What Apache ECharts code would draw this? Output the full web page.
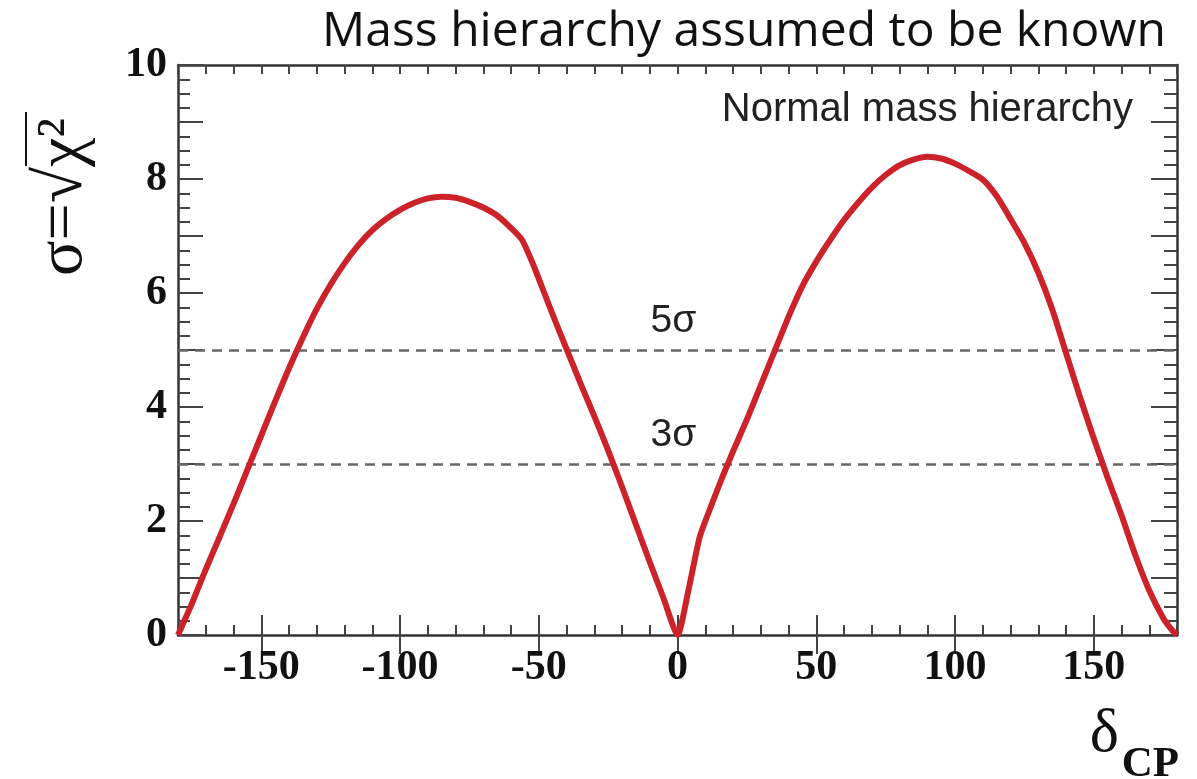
<!DOCTYPE html>
<html><head><meta charset="utf-8">
<script src="https://cdn.jsdelivr.net/npm/echarts@6/dist/echarts.min.js"></script>
<style>html,body{margin:0;padding:0;background:#fff}#c{width:1197px;height:779px}</style>
</head><body><div id="c"></div>
<script>
// δCP (degrees) and significance σ = sqrt(chi2)
const deltaCP = [-180,-175,-170,-165,-160,-155,-150,-145,-140,-135,-130,-125,-120,-115,-110,-105,-100,-95,-90,-85,-80,-75,-70,-65,-60,-56,-52,-48,-44,-40,-35,-30,-25,-20,-15,-10,-5,0,
  4,8,12,16,20,25,30,35,40,45,50,55,60,65,70,75,80,85,90,95,100,105,110,115,120,125,130,135,140,145,150,155,160,165,170,175,178,180];
const sigma = [0,0.55,1.15,1.72,2.3,2.9,3.5,4.1,4.68,5.22,5.72,6.15,6.52,6.84,7.1,7.3,7.46,7.58,7.66,7.69,7.67,7.6,7.5,7.36,7.14,6.93,6.5,6.0,5.5,5.02,4.42,3.84,3.24,2.6,1.94,1.28,0.64,0,
  0.8,1.72,2.25,2.75,3.22,3.78,4.38,4.98,5.58,6.12,6.55,6.93,7.28,7.58,7.85,8.07,8.24,8.34,8.39,8.36,8.27,8.14,7.99,7.7,7.3,6.88,6.36,5.72,4.95,4.18,3.45,2.76,2.1,1.4,0.78,0.3,0.1,0];
const xMajorTicks = [-150,-100,-50,0,50,100,150];
const sigmaLevels = [5,3];
const sigmaLabels = ['5σ','3σ'];
const titleText = 'Mass hierarchy assumed to be known';
const noteText = 'Normal mass hierarchy';

const chart = echarts.init(document.getElementById('c'), null, {renderer:'canvas'});
const tickFont = {fontFamily:'Liberation Serif', fontWeight:'bold', fontSize:42, color:'#111'};
const axisLineStyle = {color:'#333', width:2.5};
const tickStyle = {color:'#444', width:2};
const xBase = {type:'value', min:-180, max:180, gridIndex:0, splitLine:{show:false}};
const yBase = {type:'value', min:0, max:10, gridIndex:0, splitLine:{show:false}};

chart.setOption({
  animation:false,
  backgroundColor:'#fff',
  grid:{left:178, right:20, top:65, bottom:144, containLabel:false},
  title:[
    {text:titleText, right:26, top:3, textStyle:{fontFamily:'Open Sans', fontWeight:'normal', fontSize:48, color:'#111'}},
  ],
  graphic:[
    {type:'text', right:64, top:90, style:{text:noteText, font:'40px "Liberation Sans"', fill:'#222'}},
    {type:'text', x:64, y:197, rotation:Math.PI/2, style:{text:'σ=√χ²', font:'66px "Liberation Serif"', fill:'#111', textAlign:'center', textVerticalAlign:'middle'}},
    {type:'line', shape:{x1:26, y1:112, x2:26, y2:166}, style:{stroke:'#111', lineWidth:2}},
    {type:'text', x:1119, y:766, style:{text:'δ', font:'62px "Liberation Serif"', fill:'#111', textAlign:'right', textVerticalAlign:'bottom'}},
    {type:'text', x:1179, y:786, style:{text:'CP', font:'bold 43px "Liberation Serif"', fill:'#111', textAlign:'right', textVerticalAlign:'bottom'}}
  ],
  xAxis:[
    Object.assign({}, xBase, {position:'bottom', interval:10,
      axisLine:{show:true, onZero:false, lineStyle:axisLineStyle},
      axisTick:{show:true, inside:true, length:10, lineStyle:tickStyle},
      axisLabel:{show:true, margin:12, formatter:v => (v % 50 === 0 && Math.abs(v) < 180) ? String(v) : '', ...tickFont}}),
    Object.assign({}, xBase, {position:'bottom',
      axisLine:{show:false},
      axisTick:{show:true, inside:true, length:20, customValues:xMajorTicks, lineStyle:tickStyle},
      axisLabel:{show:false}}),
    Object.assign({}, xBase, {position:'top', interval:10,
      axisLine:{show:true, onZero:false, lineStyle:axisLineStyle},
      axisTick:{show:true, inside:true, length:9, lineStyle:tickStyle},
      axisLabel:{show:false}}),
    Object.assign({}, xBase, {position:'top',
      axisLine:{show:false},
      axisTick:{show:true, inside:true, length:19, customValues:xMajorTicks, lineStyle:tickStyle},
      axisLabel:{show:false}})
  ],
  yAxis:[
    Object.assign({}, yBase, {position:'left', interval:1,
      axisLine:{show:true, onZero:false, lineStyle:axisLineStyle},
      axisTick:{show:true, inside:true, length:25, lineStyle:tickStyle},
      minorTick:{show:true, splitNumber:4, length:12, lineStyle:tickStyle},
      axisLabel:{show:true, margin:11, formatter:v => (v % 2 === 0) ? String(v) : '', ...tickFont}}),
    Object.assign({}, yBase, {position:'right', interval:1,
      axisLine:{show:true, onZero:false, lineStyle:axisLineStyle},
      axisTick:{show:true, inside:true, length:26, lineStyle:tickStyle},
      minorTick:{show:true, splitNumber:4, length:13, lineStyle:tickStyle},
      axisLabel:{show:false}})
  ],
  series:[{
    type:'line', xAxisIndex:0, yAxisIndex:0,
    data: deltaCP.map((x,i) => [x, sigma[i]]),
    showSymbol:false, smooth:0.2,
    lineStyle:{color:'#cc2229', width:6},
    z:5,
    markLine:{
      silent:true, symbol:'none',
      lineStyle:{color:'#666', width:2.5, type:[10,7]},
      label:{show:true, position:'insideMiddleTop', distance:9, offset:[-4,0], fontFamily:'Liberation Sans', fontSize:39, color:'#222'},
      data: sigmaLevels.map((v,i) => ({yAxis:v, label:{formatter:sigmaLabels[i]}}))
    }
  }]
});
</script></body></html>
